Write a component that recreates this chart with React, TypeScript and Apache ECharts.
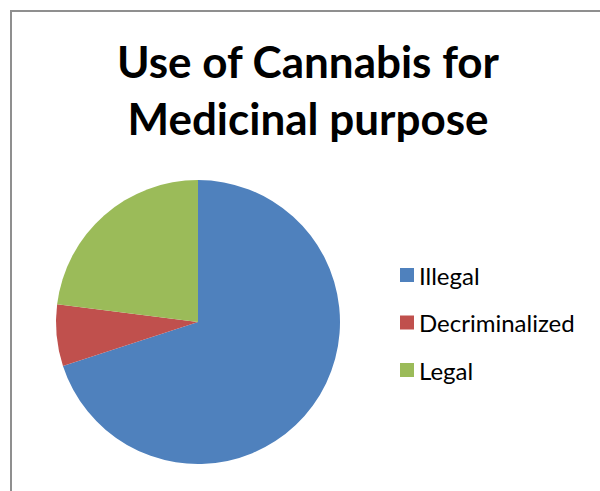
import React, { useEffect, useRef } from "react";
import * as echarts from "echarts";

const titleLines = ["Use of Cannabis for", "Medicinal purpose"];
const categories = ["Illegal", "Decriminalized", "Legal"];
const values = [70, 7, 23];
const colors = ["#4F81BD", "#C0504D", "#9BBB59"];

export default function App() {
  const ref = useRef<HTMLDivElement>(null);
  useEffect(() => {
    if (!ref.current) return;
    const chart = echarts.init(ref.current, null, { renderer: "svg" });
    chart.setOption({
      animation: false,
      backgroundColor: "#ffffff",
      title: {
        text: titleLines.join("\n"),
        left: 308,
        textAlign: "center",
        top: 32,
        padding: 0,
        textStyle: {
          fontFamily: "Lato",
          fontWeight: "bold",
          fontSize: 44,
          lineHeight: 57,
          color: "#000000",
        },
      },
      legend: {
        orient: "vertical",
        left: 395,
        top: 257,
        itemWidth: 14,
        itemHeight: 14,
        itemGap: 21.5,
        icon: "rect",
        data: categories,
        textStyle: {
          fontFamily: "Lato",
          fontSize: 24,
          lineHeight: 26,
          color: "#000000",
        },
      },
      graphic: [
        {
          type: "rect",
          shape: { x: 11, y: 11, width: 700, height: 700 },
          style: { fill: "none", stroke: "#8f8f8f", lineWidth: 2 },
          silent: true,
        },
      ],
      series: [
        {
          type: "pie",
          center: [198, 322],
          radius: 142,
          startAngle: 90,
          clockwise: true,
          label: { show: false },
          labelLine: { show: false },
          emphasis: { disabled: true },
          itemStyle: { borderWidth: 0 },
          data: categories.map((name, i) => ({
            name,
            value: values[i],
            itemStyle: { color: colors[i] },
          })),
        },
      ],
    });
    return () => chart.dispose();
  }, []);
  return (
    <div
      ref={ref}
      style={{ position: "fixed", left: 0, top: 0, width: 600, height: 491 }}
    />
  );
}
